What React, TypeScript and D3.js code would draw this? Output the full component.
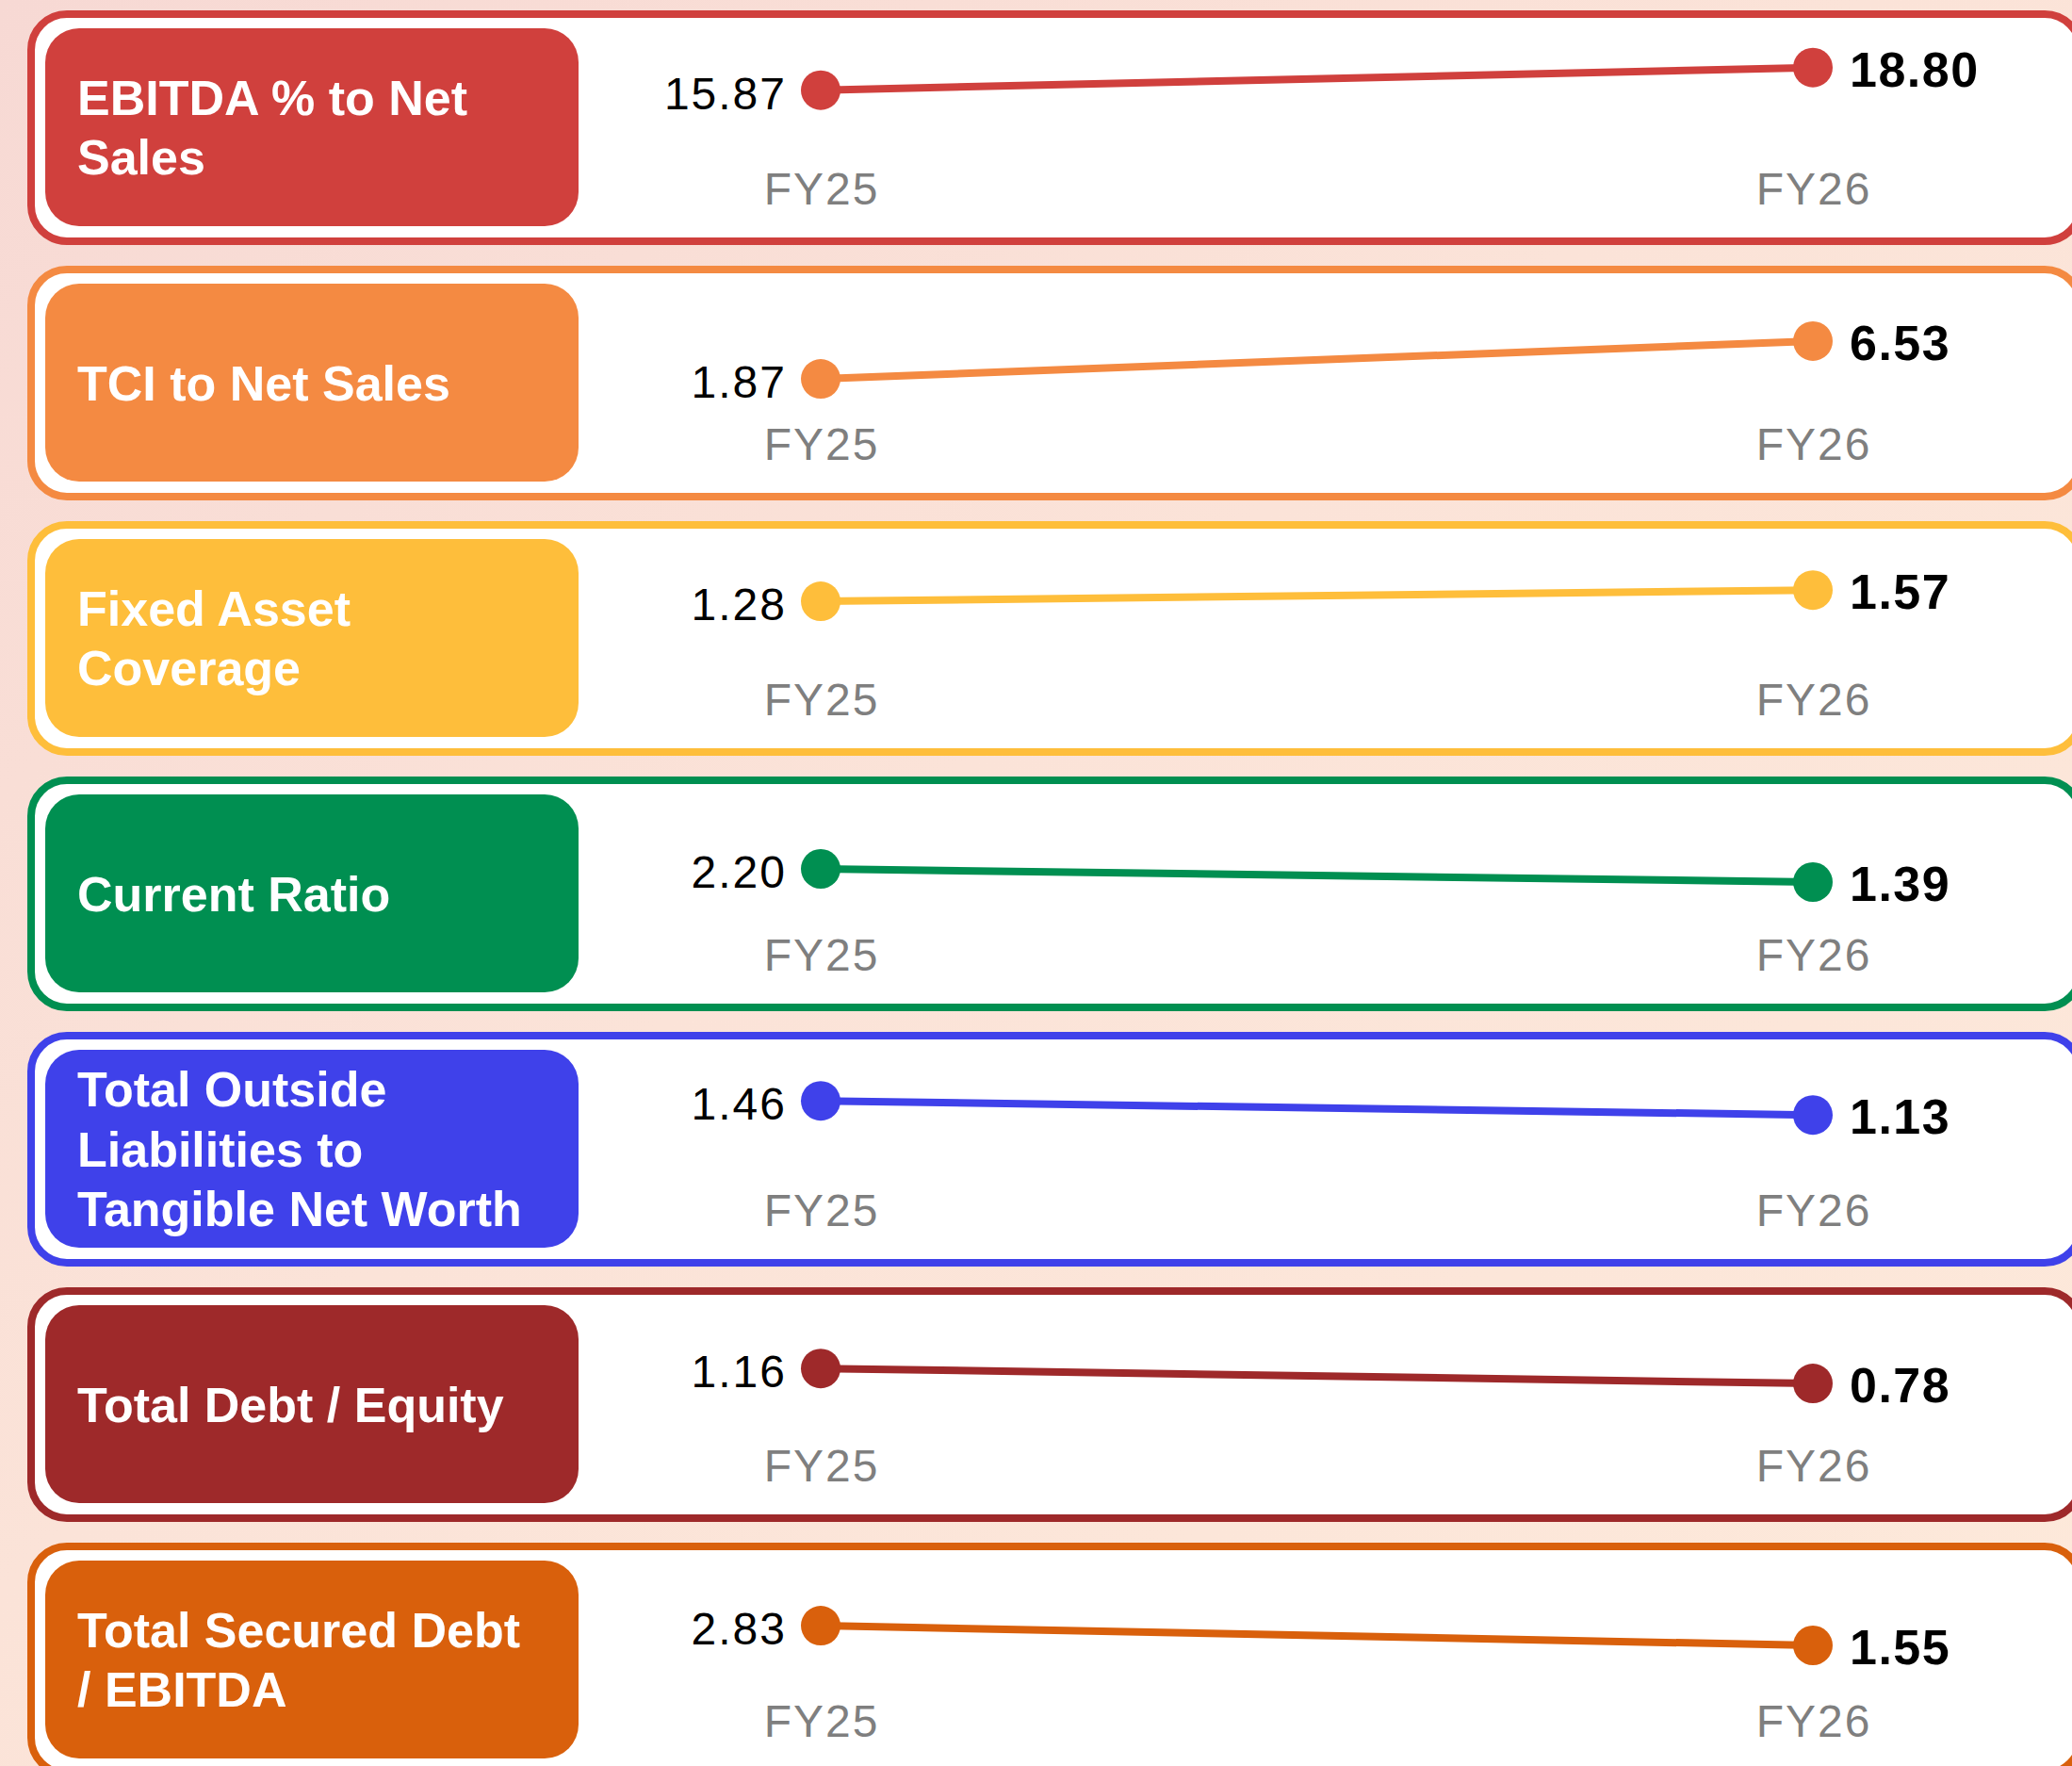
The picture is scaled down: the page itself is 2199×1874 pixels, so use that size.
import React, { useEffect } from "react";
import * as d3 from "d3";

// ---------- data ----------
const periods = ["FY25", "FY26"];
const metricLabels: string[][] = [
  ["EBITDA % to Net", "Sales"],
  ["TCI to Net Sales"],
  ["Fixed Asset", "Coverage"],
  ["Current Ratio"],
  ["Total Outside", "Liabilities to", "Tangible Net Worth"],
  ["Total Debt / Equity"],
  ["Total Secured Debt", "/ EBITDA"],
];
const fy25Values = [15.87, 1.87, 1.28, 2.2, 1.46, 1.16, 2.83];
const fy26Values = [18.8, 6.53, 1.57, 1.39, 1.13, 0.78, 1.55];
// per-panel value axis range (each mini chart has its own scale)
const yDomains: [number, number][] = [
  [7.9, 20.1],
  [-1.6, 10.0],
  [-0.29, 2.13],
  [-0.81, 4.98],
  [-0.23, 1.97],
  [-0.36, 2.02],
  [-0.95, 5.15],
];
const panelColors = [
  "#d0403d",
  "#f48a42",
  "#febe3b",
  "#008f51",
  "#3f41ea",
  "#9e292a",
  "#d9600c",
];

// ---------- layout ----------
const W = 2199;
const H = 1874;
const panelTop0 = 11;
const panelPitch = 271;
const panelH = 249;
const borderW = 8;
const outerLeft = 29;
const outerRight = 2212;

export default function App() {
  useEffect(() => {
    document.body.style.margin = "0";
    document.body.style.overflow = "hidden";
  }, []);

  const x = d3.scalePoint<string>().domain(periods).range([871, 1924]);
  const font = "'Liberation Sans', Arial, Helvetica, sans-serif";

  return (
    <svg
      width={W}
      height={H}
      viewBox={`0 0 ${W} ${H}`}
      style={{ position: "absolute", left: 0, top: 0, display: "block" }}
    >
      <defs>
        <linearGradient id="bg" x1="0" y1="0" x2="1" y2="1">
          <stop offset="0%" stopColor="#f7d9d4" />
          <stop offset="45%" stopColor="#fbe3d8" />
          <stop offset="100%" stopColor="#fde9da" />
        </linearGradient>
      </defs>
      <rect x={0} y={0} width={W} height={H} fill="url(#bg)" />
      {metricLabels.map((lines, i) => {
        const top = panelTop0 + i * panelPitch;
        const color = panelColors[i];
        const y = d3
          .scaleLinear()
          .domain(yDomains[i])
          .range([top + 150, top + 50]);
        const pts: [number, number][] = [
          [x(periods[0]) as number, y(fy25Values[i])],
          [x(periods[1]) as number, y(fy26Values[i])],
        ];
        const line = d3.line<[number, number]>()(pts) || "";
        const n = lines.length;
        const lineGap = 63.5;
        return (
          <g key={i}>
            <rect
              x={outerLeft + borderW / 2}
              y={top + borderW / 2}
              width={outerRight - outerLeft - borderW}
              height={panelH - borderW}
              rx={38}
              ry={38}
              fill="#ffffff"
              stroke={color}
              strokeWidth={borderW}
            />
            <rect
              x={48}
              y={top + 19}
              width={566}
              height={210}
              rx={36}
              ry={36}
              fill={color}
            />
            {lines.map((t, j) => (
              <text
                key={j}
                x={82}
                y={top + 124.5 + 18 + (j - (n - 1) / 2) * lineGap}
                fill="#ffffff"
                fontFamily={font}
                fontWeight={700}
                fontSize={52}
              >
                {t}
              </text>
            ))}
            <path d={line} fill="none" stroke={color} strokeWidth={8} />
            {pts.map((p, k) => (
              <circle key={k} cx={p[0]} cy={p[1]} r={21} fill={color} />
            ))}
            <text
              x={pts[0][0] - 36}
              y={pts[0][1] + 20}
              textAnchor="end"
              fontFamily={font}
              fontSize={48}
              letterSpacing={2}
              fill="#000000"
            >
              {fy25Values[i].toFixed(2)}
            </text>
            <text
              x={pts[1][0] + 39}
              y={pts[1][1] + 20}
              textAnchor="start"
              fontFamily={font}
              fontWeight={700}
              fontSize={52}
              letterSpacing={1.5}
              fill="#000000"
            >
              {fy26Values[i].toFixed(2)}
            </text>
            {periods.map((p) => (
              <text
                key={p}
                x={(x(p) as number) + 1}
                y={top + 206}
                textAnchor="middle"
                fontFamily={font}
                fontSize={48}
                letterSpacing={2}
                fill="#7f7f7f"
              >
                {p}
              </text>
            ))}
          </g>
        );
      })}
    </svg>
  );
}
